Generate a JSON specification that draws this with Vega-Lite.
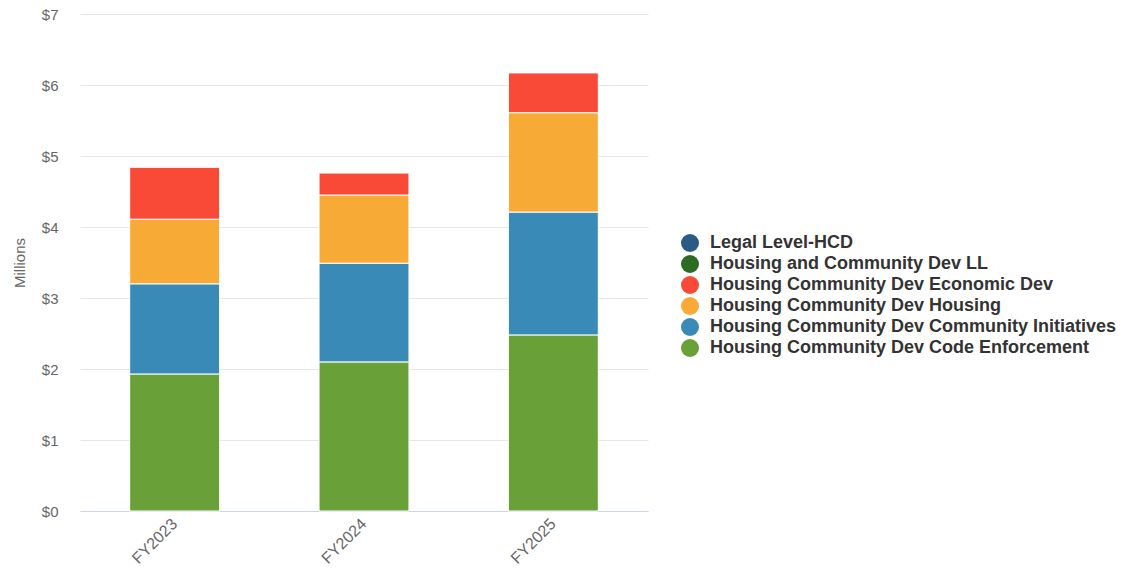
{
  "$schema": "https://vega.github.io/schema/vega-lite/v6.json",
  "width": 568,
  "height": 497,
  "autosize": "none",
  "padding": {"left": 80, "top": 14, "right": 477, "bottom": 66},
  "background": "white",
  "config": {
    "font": "Liberation Sans",
    "view": {"stroke": null}
  },
  "data": {
    "values": [
      {"year": "FY2023", "dept": "Housing Community Dev Code Enforcement", "value": 1.93, "ord": 1},
      {"year": "FY2023", "dept": "Housing Community Dev Community Initiatives", "value": 1.27, "ord": 2},
      {"year": "FY2023", "dept": "Housing Community Dev Housing", "value": 0.91, "ord": 3},
      {"year": "FY2023", "dept": "Housing Community Dev Economic Dev", "value": 0.73, "ord": 4},
      {"year": "FY2024", "dept": "Housing Community Dev Code Enforcement", "value": 2.10, "ord": 1},
      {"year": "FY2024", "dept": "Housing Community Dev Community Initiatives", "value": 1.39, "ord": 2},
      {"year": "FY2024", "dept": "Housing Community Dev Housing", "value": 0.96, "ord": 3},
      {"year": "FY2024", "dept": "Housing Community Dev Economic Dev", "value": 0.31, "ord": 4},
      {"year": "FY2025", "dept": "Housing Community Dev Code Enforcement", "value": 2.48, "ord": 1},
      {"year": "FY2025", "dept": "Housing Community Dev Community Initiatives", "value": 1.73, "ord": 2},
      {"year": "FY2025", "dept": "Housing Community Dev Housing", "value": 1.40, "ord": 3},
      {"year": "FY2025", "dept": "Housing Community Dev Economic Dev", "value": 0.56, "ord": 4}
    ]
  },
  "mark": {"type": "bar", "stroke": "white", "strokeWidth": 1},
  "encoding": {
    "x": {
      "field": "year",
      "type": "nominal",
      "scale": {"paddingInner": 0.525, "paddingOuter": 0.2625},
      "axis": {
        "title": null,
        "labelAngle": -45,
        "labelAlign": "right",
        "labelBaseline": "middle",
        "labelFontSize": 16,
        "labelColor": "#666666",
        "labelPadding": 10,
        "ticks": false,
        "domainColor": "#ccd6eb",
        "domainWidth": 1
      }
    },
    "y": {
      "field": "value",
      "type": "quantitative",
      "stack": "zero",
      "scale": {"domain": [0, 7], "nice": false},
      "axis": {
        "title": "Millions",
        "titleFontSize": 15,
        "titleFontWeight": "normal",
        "titleColor": "#666666",
        "titlePadding": 14,
        "values": [0, 1, 2, 3, 4, 5, 6, 7],
        "labelExpr": "'$' + datum.value",
        "labelFontSize": 15,
        "labelColor": "#666666",
        "labelPadding": 22,
        "ticks": false,
        "domain": false,
        "gridColor": "#e6e6e6",
        "gridWidth": 1
      }
    },
    "color": {
      "field": "dept",
      "type": "nominal",
      "scale": {
        "domain": [
          "Legal Level-HCD",
          "Housing and Community Dev LL",
          "Housing Community Dev Economic Dev",
          "Housing Community Dev Housing",
          "Housing Community Dev Community Initiatives",
          "Housing Community Dev Code Enforcement"
        ],
        "range": ["#2b5b84", "#2e6b25", "#f94a38", "#f8aa36", "#3a8ab8", "#69a037"]
      },
      "legend": {
        "title": null,
        "orient": "none",
        "legendX": 601,
        "legendY": 220,
        "symbolType": "circle",
        "symbolSize": 324,
        "symbolStrokeWidth": 0,
        "labelFontSize": 18,
        "labelFontWeight": "bold",
        "labelColor": "#333333",
        "labelOffset": 11,
        "labelLimit": 500,
        "rowPadding": 3,
        "symbolOffset": 0
      }
    },
    "order": {"field": "ord", "type": "quantitative"}
  }
}
